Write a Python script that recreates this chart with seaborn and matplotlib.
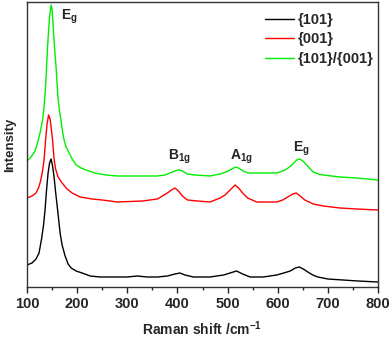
import pandas as pd
import numpy as np
import matplotlib
matplotlib.use("Agg")
import matplotlib.pyplot as plt
import seaborn as sns
from matplotlib.ticker import MultipleLocator

# ----------- Data -----------
# intensity in arbitrary units (curves already offset as in the figure)
shift_101 = [100, 110, 118, 124, 129, 133, 136, 139, 142, 145, 148, 151, 154, 157, 160,
             163, 166, 170, 176, 182, 188, 198, 210, 226, 246, 280, 300, 320, 340, 360,
             380, 395, 405, 415, 432, 465, 492, 505, 518, 530, 545, 571, 598, 612, 625,
             635, 643, 651, 660, 670, 680, 700, 730, 760, 800]
int_101 = [22, 24, 28, 34, 48, 62, 77, 97, 114, 124, 128, 121, 110, 95, 82,
           68, 54, 42, 31, 23, 19, 16, 14, 11, 10, 10, 10, 11, 10, 10,
           11, 13, 14, 12, 10, 10, 12, 14, 16, 13, 10, 10, 12, 14, 16,
           19, 20, 18, 15, 12, 10, 8, 7, 6, 5]

shift_001 = [100, 110, 118, 123, 127, 131, 134, 136, 138, 140, 143, 146, 148, 151, 154,
             157, 162, 170, 180, 190, 206, 230, 250, 280, 330, 360, 370, 380, 388, 395,
             402, 410, 420, 440, 465, 485, 495, 505, 515, 522, 530, 540, 558, 598, 610,
             620, 630, 637, 645, 654, 671, 691, 724, 758, 800]
int_001 = [89, 91, 94, 99, 106, 116, 127, 140, 152, 163, 172, 168, 160, 147, 128,
           118, 110, 104, 98, 94, 90, 88, 87, 85, 86, 88, 91, 94, 97, 99,
           96, 91, 87, 86, 85, 89, 92, 97, 102, 99, 94, 89, 85, 85, 87,
           90, 93, 94, 91, 87, 83, 81, 79, 78, 77]

shift_mix = [100, 108, 116, 121, 126, 131, 134, 137, 139, 141, 143, 145, 148, 150, 152,
             154, 156, 158, 160, 162, 165, 168, 171, 174, 178, 184, 190, 198, 208, 218,
             235, 258, 280, 320, 360, 375, 385, 395, 402, 410, 420, 435, 465, 485, 497,
             505, 512, 518, 525, 531, 541, 551, 598, 610, 618, 626, 632, 638, 644, 650,
             658, 665, 671, 681, 691, 724, 758, 800]
int_mix = [126, 130, 136, 144, 154, 167, 180, 200, 220, 240, 256, 270, 282, 278, 262,
           246, 232, 220, 203, 189, 175, 166, 155, 147, 140, 134, 128, 122, 119, 117,
           114, 112, 111, 111, 111, 112, 114, 116, 117, 116, 113, 112, 111, 113, 115,
           117, 119, 120, 118, 116, 114, 114, 114, 116, 118, 121, 124, 127, 128, 126,
           122, 118, 115, 113, 112, 110, 109, 107]

samples = ["{101}", "{001}", "{101}/{001}"]
colors = {"{101}": "black", "{001}": "#ff0000", "{101}/{001}": "#00ee00"}

# peak labels (mode name, position of label)
peak_labels = [r"$E_g$", r"$B_{1g}$", r"$A_{1g}$", r"$E_g$"]
label_x = [168, 381, 505, 630]
label_y = [267, 127, 127, 135]

df = pd.concat([
    pd.DataFrame({"shift": shift_101, "intensity": int_101, "sample": "{101}"}),
    pd.DataFrame({"shift": shift_001, "intensity": int_001, "sample": "{001}"}),
    pd.DataFrame({"shift": shift_mix, "intensity": int_mix, "sample": "{101}/{001}"}),
])

# ----------- Style -----------
sns.set_style("ticks")
plt.rcParams["font.family"] = ["Liberation Sans", "DejaVu Sans"]
plt.rcParams["font.weight"] = "bold"
plt.rcParams["mathtext.fontset"] = "custom"
plt.rcParams["mathtext.rm"] = "Liberation Sans:bold"
plt.rcParams["mathtext.it"] = "Liberation Sans:bold"
plt.rcParams["mathtext.bf"] = "Liberation Sans:bold"
plt.rcParams["mathtext.default"] = "bf"

fig = plt.figure(figsize=(3.92, 3.37), dpi=100)
ax = fig.add_axes([27 / 392, 50 / 337, 351 / 392, 285 / 337])

sns.lineplot(data=df, x="shift", y="intensity", hue="sample", hue_order=samples,
             palette=colors, estimator=None, sort=True, linewidth=1.0, ax=ax)

ax.set_xlim(100, 800)
ax.set_ylim(0, 285)
ax.xaxis.set_major_locator(MultipleLocator(100))
ax.xaxis.set_minor_locator(MultipleLocator(50))
ax.set_yticks([])
ax.tick_params(axis="x", which="major", direction="out", length=4.3, width=1,
               labelsize=10.5, pad=3)
ax.tick_params(axis="x", which="minor", direction="out", length=2.3, width=1)
for s in ax.spines.values():
    s.set_visible(True)
    s.set_linewidth(1.0)
    s.set_color("#333333")

ax.set_xlabel(r"Raman shift /cm$^{-1}$", fontsize=10, fontweight="bold", labelpad=6)
ax.set_ylabel("Intensity", fontsize=9.5, fontweight="bold", labelpad=8)

for txt, xx, yy in zip(peak_labels, label_x, label_y):
    ax.text(xx, yy, txt, fontsize=10, ha="left", va="baseline")

leg = ax.legend(loc="upper right", bbox_to_anchor=(1.0, 0.978), frameon=False,
                fontsize=10.5, handlelength=2.0, handletextpad=0.25, labelspacing=0.38,
                borderaxespad=0.1, borderpad=0.2)
for t in leg.get_texts():
    t.set_fontweight("bold")

fig.savefig("out.png", dpi=100)
